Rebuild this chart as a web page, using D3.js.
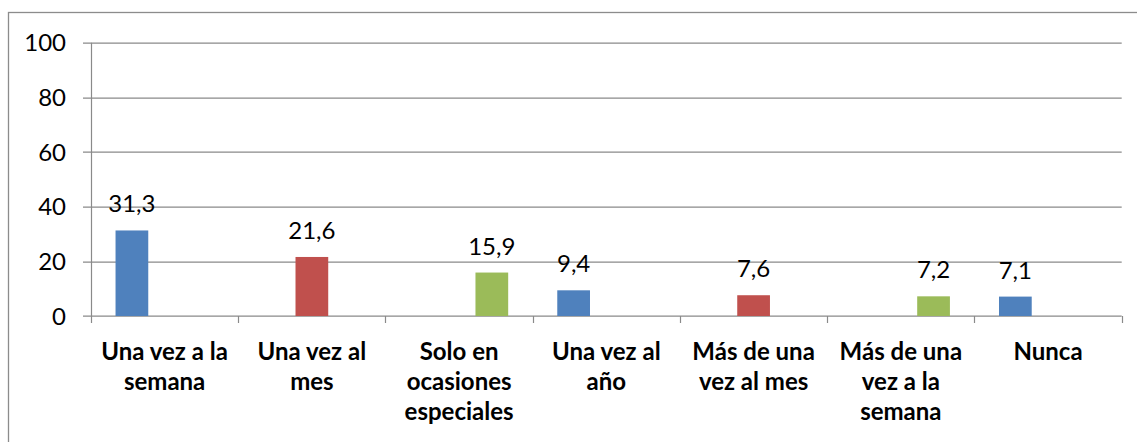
<!DOCTYPE html>
<html lang="es">
  <head>
    <meta charset="UTF-8" />
    <title>Frecuencia</title>
    <script src="https://cdnjs.cloudflare.com/ajax/libs/d3/7.8.5/d3.min.js"></script>
    <style>
      body {
        margin: 0;
        background: #fff;
      }
      text {
        font-family: Lato, "Open Sans", sans-serif;
        fill: #000;
      }
      .tick-label {
        font-size: 24px;
      }
      .value-label {
        font-size: 24px;
      }
      .cat-label {
        font-size: 24px;
        font-weight: bold;
      }
    </style>
  </head>
  <body>
    <div id="chart"></div>
    <script>
      // Categories (line breaks as in the original)
      const categories = [
        ["Una vez a la", "semana"],
        ["Una vez al", "mes"],
        ["Solo en", "ocasiones", "especiales"],
        ["Una vez al", "año"],
        ["Más de una", "vez al mes"],
        ["Más de una", "vez a la", "semana"],
        ["Nunca"],
      ];

      // Three series, each category only has a value in one of them
      const serie1 = [31.3, null, null, 9.4, null, null, 7.1];
      const serie2 = [null, 21.6, null, null, 7.6, null, null];
      const serie3 = [null, null, 15.9, null, null, 7.2, null];

      const seriesNames = ["Serie1", "Serie2", "Serie3"];
      const seriesColors = ["#4f81bd", "#c0504d", "#9bbb59"];
      const yTicks = [0, 20, 40, 60, 80, 100];

      const W = 1137;
      const H = 442;
      const margin = { top: 42.7, right: 15.3, bottom: 126, left: 91 };
      const width = W - margin.left - margin.right;
      const height = H - margin.top - margin.bottom;

      const svg = d3
        .select("#chart")
        .append("svg")
        .attr("width", W)
        .attr("height", H);

      // Chart area border (cut by the picture on right and bottom)
      svg
        .append("rect")
        .attr("x", 8.5)
        .attr("y", 12.5)
        .attr("width", W + 20)
        .attr("height", H + 20)
        .attr("fill", "none")
        .attr("stroke", "#8c8c8c")
        .attr("stroke-width", 1.3);

      const g = svg
        .append("g")
        .attr("transform", `translate(${margin.left},${margin.top})`);

      const idx = categories.map((d, i) => i);

      const x0 = d3.scaleBand().domain(idx).range([0, width]).padding(0);
      const x1 = d3
        .scaleBand()
        .domain(seriesNames)
        .range([0, x0.bandwidth()])
        .paddingInner(0)
        .paddingOuter(0.75);
      const y = d3.scaleLinear().domain([0, 100]).range([height, 0]);

      // Gridlines
      g.append("g")
        .selectAll("line")
        .data(yTicks)
        .enter()
        .append("line")
        .attr("x1", -8)
        .attr("x2", width)
        .attr("y1", (d) => Math.round(y(d)) + 0.5)
        .attr("y2", (d) => Math.round(y(d)) + 0.5)
        .attr("stroke", "#8a8a8a")
        .attr("stroke-width", 1.2);

      // Y axis line
      g.append("line")
        .attr("x1", 0.5)
        .attr("x2", 0.5)
        .attr("y1", 0)
        .attr("y2", height)
        .attr("stroke", "#8a8a8a")
        .attr("stroke-width", 1.2);

      // Y tick labels
      g.append("g")
        .selectAll("text")
        .data(yTicks)
        .enter()
        .append("text")
        .attr("class", "tick-label")
        .attr("x", -25)
        .attr("y", (d) => y(d))
        .attr("dy", "0.36em")
        .attr("text-anchor", "end")
        .text((d) => d);

      // X category tick marks
      g.append("g")
        .selectAll("line")
        .data(d3.range(categories.length + 1))
        .enter()
        .append("line")
        .attr("x1", (d) => Math.round(d * x0.step()) + 0.5)
        .attr("x2", (d) => Math.round(d * x0.step()) + 0.5)
        .attr("y1", height)
        .attr("y2", height + 7)
        .attr("stroke", "#8a8a8a")
        .attr("stroke-width", 1.2);

      // Bars
      const series = [serie1, serie2, serie3];
      const barData = [];
      series.forEach((s, si) => {
        s.forEach((v, ci) => {
          if (v !== null) barData.push({ cat: ci, serie: si, value: v });
        });
      });

      g.append("g")
        .selectAll("rect")
        .data(barData)
        .enter()
        .append("rect")
        .attr("x", (d) => x0(d.cat) + x1(seriesNames[d.serie]))
        .attr("y", (d) => y(d.value))
        .attr("width", x1.bandwidth())
        .attr("height", (d) => y(0) - y(d.value))
        .attr("fill", (d) => seriesColors[d.serie]);

      // Value labels
      g.append("g")
        .selectAll("text")
        .data(barData)
        .enter()
        .append("text")
        .attr("class", "value-label")
        .attr(
          "x",
          (d) => x0(d.cat) + x1(seriesNames[d.serie]) + x1.bandwidth() / 2
        )
        .attr("y", (d) => y(d.value) - 18)
        .attr("text-anchor", "middle")
        .text((d) => d.value.toFixed(1).replace(".", ","));

      // Category labels
      const cats = g
        .append("g")
        .selectAll("text")
        .data(categories)
        .enter()
        .append("text")
        .attr("class", "cat-label")
        .attr("text-anchor", "middle")
        .attr("transform", (d, i) => `translate(${x0(i) + x0.bandwidth() / 2},${height + 44})`);

      cats
        .selectAll("tspan")
        .data((d) => d)
        .enter()
        .append("tspan")
        .attr("x", 0)
        .attr("y", (d, i) => i * 30)
        .text((d) => d);
    </script>
  </body>
</html>
